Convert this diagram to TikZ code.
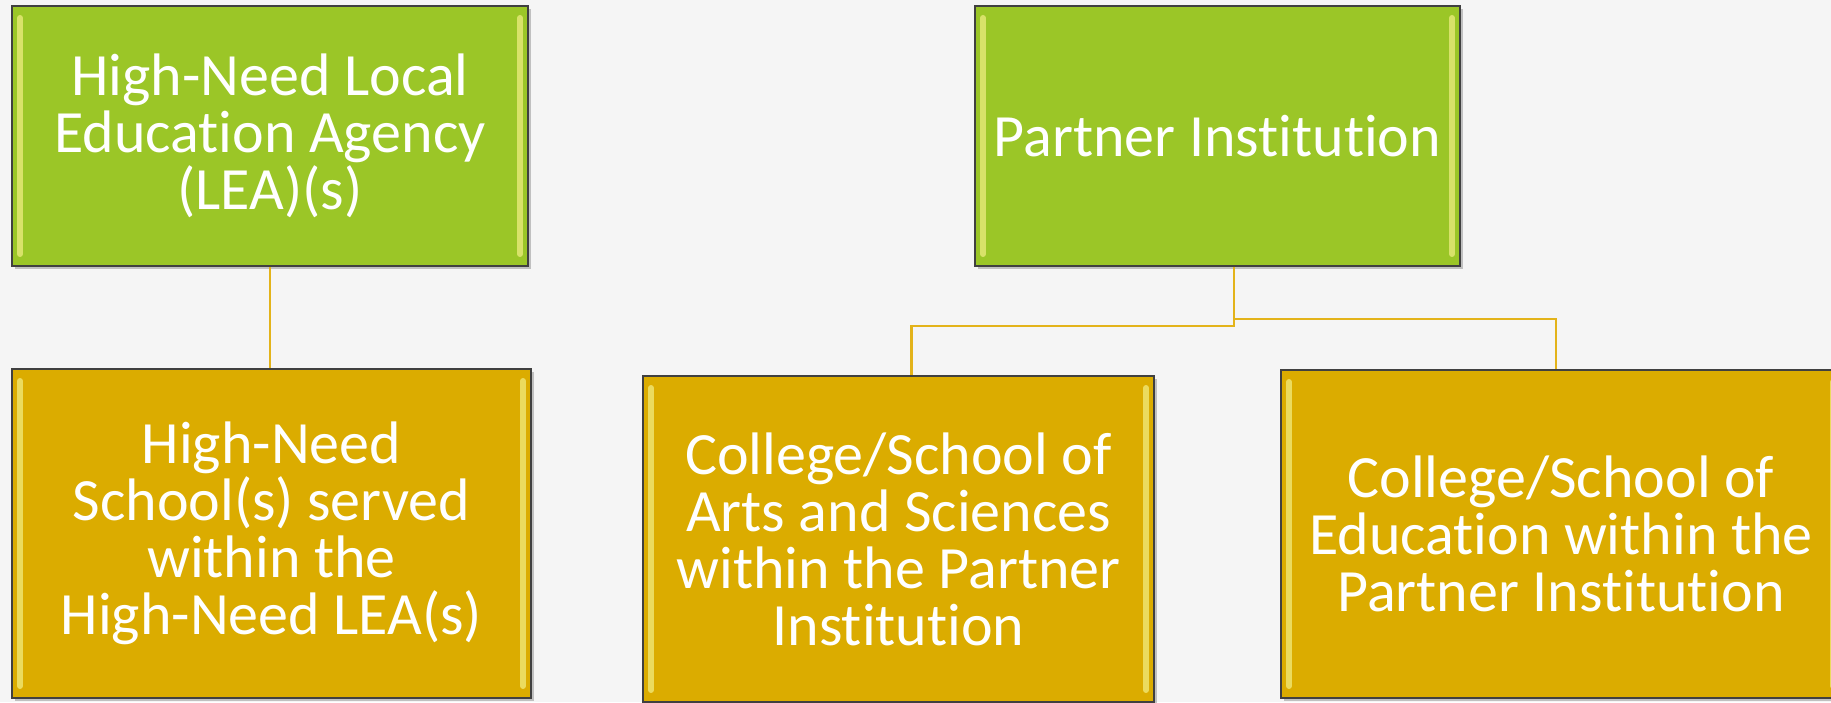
\documentclass[tikz,border=0pt]{standalone}
\usepackage{fontspec}
\setmainfont{Carlito}[Ligatures=NoCommon]
\usetikzlibrary{shadows}
\definecolor{boxgreen}{HTML}{9BC627}
\definecolor{boxgold}{HTML}{DBAC00}
\definecolor{linkgold}{HTML}{E3B31A}
\definecolor{bevel}{HTML}{F3EF86}
\tikzset{
  orgbox/.style={draw=black!75, line width=2pt, text=white, align=center,
    inner sep=0pt, font=\fontsize{60}{57}\selectfont,
    drop shadow={shadow xshift=3pt, shadow yshift=-3pt, opacity=0.45},
    path picture={
      \draw[bevel, line width=6pt, line cap=round, opacity=0.7]
        ([shift={(8pt,12pt)}]path picture bounding box.south west) -- ([shift={(8pt,-12pt)}]path picture bounding box.north west)
        ([shift={(-8pt,12pt)}]path picture bounding box.south east) -- ([shift={(-8pt,-12pt)}]path picture bounding box.north east);
    }},
  topbox/.style={orgbox, fill=boxgreen},
  subbox/.style={orgbox, fill=boxgold},
  link/.style={draw=linkgold, line width=2.5pt}
}
\begin{document}
\begin{tikzpicture}[x=1pt, y=1pt]
\useasboundingbox[fill=black!4] (0,0) rectangle (1831,702);

% top row
\node[topbox, minimum width=516, minimum height=260] (lea) at (270,566)
  {High-Need Local\\Education Agency\\(LEA)(s)};
\node[topbox, minimum width=485, minimum height=260] (pi) at (1217.5,566)
  {Partner Institution};

% bottom row
\node[subbox, minimum width=519, minimum height=329] (school) at (271.5,168.5)
  {High-Need\\School(s) served\\within the\\High-Need LEA(s)};
\node[subbox, minimum width=511, minimum height=326] (arts) at (898.5,163)
  {College/School of\\Arts and Sciences\\within the Partner\\Institution};
\node[subbox, minimum width=560, minimum height=328] (educ) at (1561,168)
  {College/School of\\Education within the\\Partner Institution};

\coordinate (jl) at (1234,376);
\coordinate (jr) at (1234,383);

\draw[link] (lea.south) -- (lea.south |- school.north);
\draw[link] (pi.south -| jl) -- (jl) -| ([xshift=13pt]arts.north);
\draw[link] (jr) -| ([xshift=-5pt]educ.north);

\end{tikzpicture}
\end{document}
